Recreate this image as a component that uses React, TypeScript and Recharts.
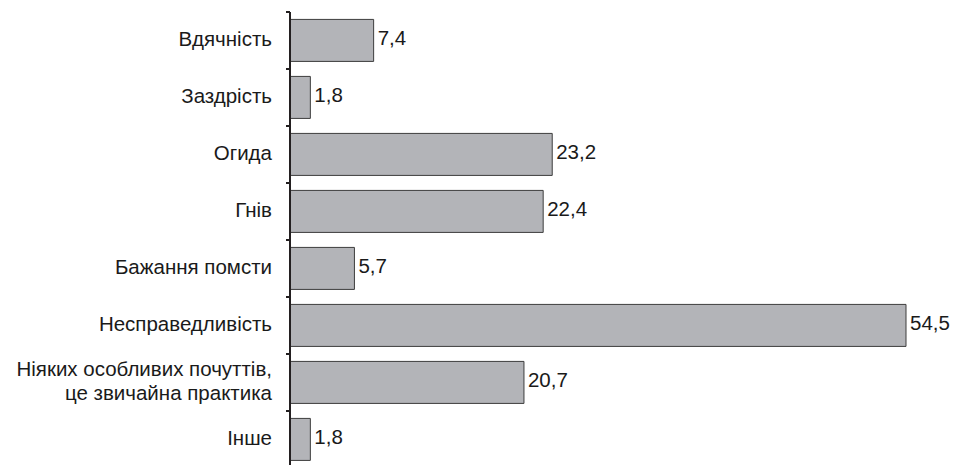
import React from 'react';
import { BarChart, Bar, XAxis, YAxis, LabelList } from 'recharts';

// Categories (top to bottom) and their shares, %
const categories: string[] = [
  'Вдячність',
  'Заздрість',
  'Огида',
  'Гнів',
  'Бажання помсти',
  'Несправедливість',
  'Ніяких особливих почуттів,\nце звичайна практика',
  'Інше',
];
const values: number[] = [7.4, 1.8, 23.2, 22.4, 5.7, 54.5, 20.7, 1.8];

const data = categories.map((name, i) => ({ name, value: values[i] }));

const FONT = '"Liberation Sans", Arial, sans-serif';
const FONT_SIZE = 20.5;
const TEXT_COLOR = '#1a1a1a';
const AXIS_COLOR = '#231f20';
// baseline shift so the cap height sits centred on the band
const BASELINE_SHIFT = 5;

// Category label plus a short tick mark at the band boundaries
const CategoryTick = (props: any) => {
  const { x, y, payload, index, visibleTicksCount } = props;
  const half: number = payload?.offset ?? 0;
  const lines: string[] = String(payload.value).split('\n');
  const lineHeight = 24;
  const startY = y - ((lines.length - 1) * lineHeight) / 2 + BASELINE_SHIFT;
  const isLast = index === (visibleTicksCount ?? categories.length) - 1;
  return (
    <g>
      <line x1={x - 4} x2={x} y1={y - half} y2={y - half} stroke={AXIS_COLOR} strokeWidth={2} />
      {isLast && (
        <line x1={x - 4} x2={x} y1={y + half} y2={y + half} stroke={AXIS_COLOR} strokeWidth={2} />
      )}
      <text textAnchor="end" fontFamily={FONT} fontSize={FONT_SIZE} fill={TEXT_COLOR}>
        {lines.map((ln, i) => (
          <tspan key={i} x={x - 18} y={startY + i * lineHeight}>
            {ln}
          </tspan>
        ))}
      </text>
    </g>
  );
};

// Value printed just past the end of each bar, with a decimal comma
const ValueLabel = (props: any) => {
  const { x, y, width, height, value } = props;
  return (
    <text
      x={Number(x) + Number(width) + 4}
      y={Number(y) + Number(height) / 2 + BASELINE_SHIFT}
      fontFamily={FONT}
      fontSize={FONT_SIZE}
      fill={TEXT_COLOR}
    >
      {String(value).replace('.', ',')}
    </text>
  );
};

export default function App() {
  return (
    <div
      style={{
        position: 'fixed',
        left: 0,
        top: 0,
        width: 953,
        height: 465,
        overflow: 'hidden',
        background: '#ffffff',
      }}
    >
      <BarChart
        width={953}
        height={475}
        data={data}
        layout="vertical"
        margin={{ top: 12, right: 47, bottom: 7, left: 0 }}
        barCategoryGap="13%"
      >
        <XAxis type="number" domain={[0, 54.5]} hide />
        <YAxis
          type="category"
          dataKey="name"
          width={290}
          interval={0}
          tickLine={false}
          tickSize={0}
          tickMargin={0}
          axisLine={{ stroke: AXIS_COLOR, strokeWidth: 2 }}
          tick={<CategoryTick />}
        />
        <Bar
          dataKey="value"
          fill="#b3b4b8"
          stroke="#3d3d3d"
          strokeWidth={1}
          isAnimationActive={false}
        >
          <LabelList dataKey="value" content={<ValueLabel />} />
        </Bar>
      </BarChart>
    </div>
  );
}
